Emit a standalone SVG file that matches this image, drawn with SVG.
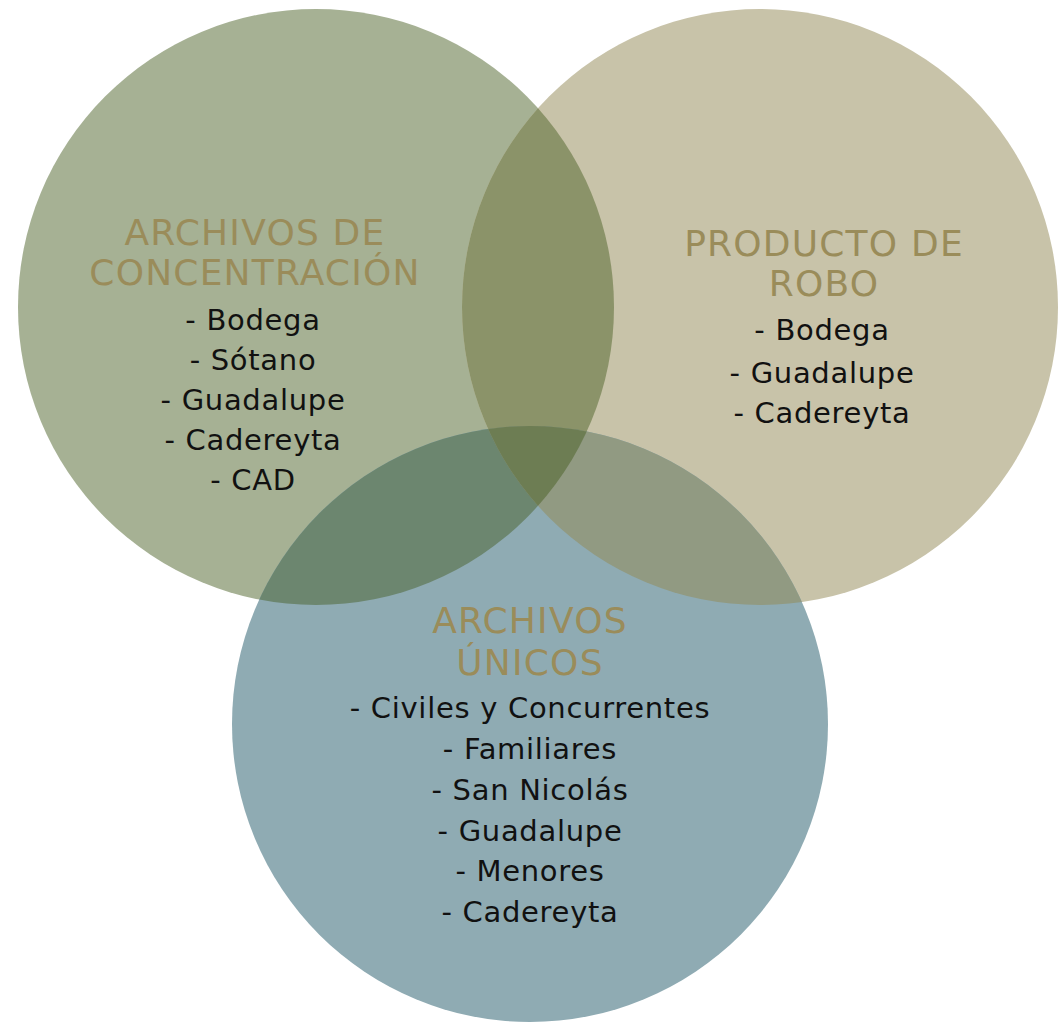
<svg xmlns="http://www.w3.org/2000/svg" width="1062" height="1023" viewBox="0 0 1062 1023">
<style>
.t{font-family:"DejaVu Sans","Liberation Sans",sans-serif;font-size:36px;letter-spacing:1.2px;fill:#9a8c5a;text-anchor:middle}
.i{font-family:"DejaVu Sans","Liberation Sans",sans-serif;font-size:29px;letter-spacing:0.7px;fill:#111;text-anchor:middle}
</style>
<defs>
<clipPath id="cL"><circle cx="316" cy="307" r="298"/></clipPath>
<clipPath id="cR"><circle cx="760" cy="307" r="298"/></clipPath>
<clipPath id="cB"><circle cx="530" cy="724" r="298"/></clipPath>
</defs>
<rect width="1062" height="1023" fill="#ffffff"/>
<g id="shapes">
<circle cx="316" cy="307" r="298" fill="#a6b194"/>
<circle cx="760" cy="307" r="298" fill="#c8c3a9"/>
<circle cx="530" cy="724" r="298" fill="#8fabb3"/>
<g clip-path="url(#cL)"><circle cx="760" cy="307" r="298" fill="#8b9369"/></g>
<g clip-path="url(#cL)"><circle cx="530" cy="724" r="298" fill="#6c866f"/></g>
<g clip-path="url(#cR)"><circle cx="530" cy="724" r="298" fill="#919a82"/></g>
<g clip-path="url(#cL)"><g clip-path="url(#cR)"><circle cx="530" cy="724" r="298" fill="#6d7d53"/></g></g>
</g>
<g id="node-concentracion">
<text class="t" x="255" y="245">ARCHIVOS DE</text>
<text class="t" x="255" y="285">CONCENTRACIÓN</text>
<text class="i" x="253" y="330">- Bodega</text>
<text class="i" x="253" y="370">- Sótano</text>
<text class="i" x="253" y="410">- Guadalupe</text>
<text class="i" x="253" y="450">- Cadereyta</text>
<text class="i" x="253" y="490">- CAD</text>
</g>
<g id="node-robo">
<text class="t" x="824" y="256">PRODUCTO DE</text>
<text class="t" x="824" y="296">ROBO</text>
<text class="i" x="822" y="340">- Bodega</text>
<text class="i" x="822" y="383">- Guadalupe</text>
<text class="i" x="822" y="423">- Cadereyta</text>
</g>
<g id="node-unicos">
<text class="t" x="530" y="633">ARCHIVOS</text>
<text class="t" x="530" y="675">ÚNICOS</text>
<text class="i" x="530" y="718">- Civiles y Concurrentes</text>
<text class="i" x="530" y="759">- Familiares</text>
<text class="i" x="530" y="800">- San Nicolás</text>
<text class="i" x="530" y="841">- Guadalupe</text>
<text class="i" x="530" y="881">- Menores</text>
<text class="i" x="530" y="922">- Cadereyta</text>
</g>
<g id="connectors"></g>
</svg>
